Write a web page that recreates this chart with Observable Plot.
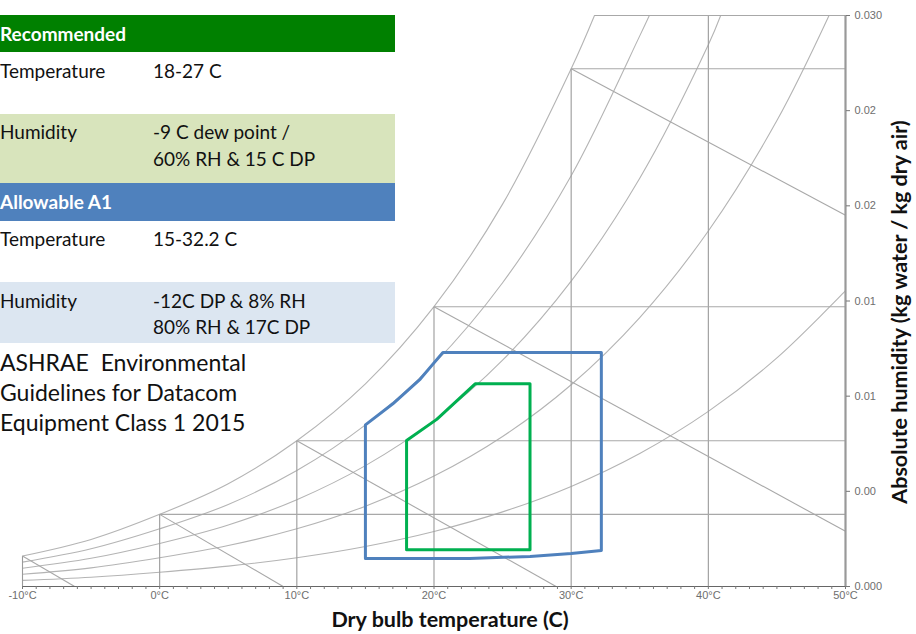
<!DOCTYPE html>
<html>
<head>
<meta charset="utf-8">
<script src="https://cdn.jsdelivr.net/npm/d3@7"></script>
<script src="https://cdn.jsdelivr.net/npm/@observablehq/plot@0.6"></script>
<style>
  body { margin: 0; background: #fff; }
  #wrap { position: relative; width: 916px; height: 634px; overflow: hidden; background: #fff; }
  #chart { position: absolute; left: 0; top: 0; }
  #table { position: absolute; left: 0; top: 15px; width: 395px; font-family: Lato, "Open Sans", sans-serif; font-size: 19px; color: #111; }
  #table .head { color: #fff; font-weight: bold; text-indent: 0px; }
  #table .row { position: relative; }
  #table .lab { position: absolute; left: 0px; }
  #table .val { position: absolute; left: 153px; }
  #note { position: absolute; left: 0px; top: 347px; font-family: Lato, "Open Sans", sans-serif; font-size: 23px; line-height: 30px; color: #111; }
</style>
</head>
<body>
<div id="wrap">
  <div id="chart"></div>
  <div id="table"></div>
  <div id="note"></div>
</div>
<script>
// ---------- data ----------
// dry-bulb temperature (°C) and absolute humidity (kg/kg) of the relative-humidity curves
const satT  = [-10, -5, 0, 5, 10, 15, 20, 25, 30, 31.7];
const satW  = [0.0016, 0.00247, 0.00379, 0.0054, 0.00766, 0.01065, 0.0147, 0.02009, 0.0272, 0.030];
const rh80T = [-10, -5, 0, 5, 10, 15, 20, 25, 30, 35, 35.7];
const rh80W = [0.00128, 0.00198, 0.00303, 0.00431, 0.00609, 0.00849, 0.0117, 0.01596, 0.02158, 0.02893, 0.030];
const rh60T = [-10, -5, 0, 5, 10, 15, 20, 25, 30, 35, 40, 40.9];
const rh60W = [0.00096, 0.00148, 0.00226, 0.00323, 0.00456, 0.00635, 0.00873, 0.01189, 0.01604, 0.02145, 0.02846, 0.030];
const rh40T = [-10, -5, 0, 5, 10, 15, 20, 25, 30, 35, 40, 45, 48.8];
const rh40W = [0.00064, 0.00098, 0.00151, 0.00215, 0.00303, 0.00422, 0.0058, 0.00788, 0.0106, 0.01413, 0.01868, 0.02448, 0.030];
const rh20T = [-10, -5, 0, 5, 10, 15, 20, 25, 30, 35, 40, 45, 50];
const rh20W = [0.00032, 0.00049, 0.00075, 0.00107, 0.00151, 0.0021, 0.00289, 0.00392, 0.00526, 0.00699, 0.0092, 0.01201, 0.01554];

// grid: saturation points at each 10 °C
const gridT    = [-10, 0, 10, 20, 30];
const gridSatW = [0.0016, 0.00379, 0.00766, 0.0147, 0.0272];
// diagonal (enthalpy) lines: end points
const enthEndT = [-6.2, 9.0, 28.9, 50, 50];
const enthEndW = [0, 0, 0, 0.0029, 0.0195];
// horizontal lines from saturation to 50 °C
const hLineT = [0, 10, 20, 30, 31.7];
const hLineW = [0.00379, 0.00766, 0.0147, 0.0272, 0.030];
// full-height vertical
const fullVertT = [40];

// envelopes
const allowT = [15, 15, 17, 19, 20.65, 32.2, 32.2, 30, 27, 22.6, 15];
const allowW = [0.00147, 0.00849, 0.0096, 0.0109, 0.0123, 0.0123, 0.00189, 0.00173, 0.00158, 0.00147, 0.00147];
const recT = [18, 18, 20.2, 23, 27, 27, 18];
const recW = [0.00193, 0.00767, 0.00878, 0.01065, 0.01065, 0.00193, 0.00193];

// axes
const xTicks = [-10, 0, 10, 20, 30, 40, 50];
const xTickLabels = ["-10°C", "0°C", "10°C", "20°C", "30°C", "40°C", "50°C"];
const yTicks = [0, 0.005, 0.010, 0.015, 0.020, 0.025, 0.030];
const yTickLabels = ["0.000", "0.00", "0.01", "0.01", "0.02", "0.02", "0.030"];
const xTitle = "Dry bulb temperature (C)";
const yTitle = "Absolute humidity (kg water / kg dry air)";

// table
const sectionNames = ["Recommended", "Allowable A1"];
const rowLabels = ["Temperature", "Humidity"];
const recommendedValues = [["18-27 C"], ["-9 C dew point /", "60% RH & 15 C DP"]];
const allowableValues = [["15-32.2 C"], ["-12C DP & 8% RH", "80% RH & 17C DP"]];
const noteLines = ["ASHRAE\u00a0 Environmental", "Guidelines for Datacom", "Equipment Class 1 2015"];

// ---------- build ----------
const curveSets = [[satT, satW], [rh80T, rh80W], [rh60T, rh60W], [rh40T, rh40W], [rh20T, rh20W]];
const curveData = curveSets.flatMap(([ts, ws], k) => ts.map((t, i) => ({t, w: ws[i], k})));
const verts = gridT.map((t, i) => ({x1: t, y1: 0, x2: t, y2: gridSatW[i]}))
  .concat(fullVertT.map(t => ({x1: t, y1: 0, x2: t, y2: 0.030})));
const horiz = hLineT.map((t, i) => ({x1: t, y1: hLineW[i], x2: 50, y2: hLineW[i]}));
const diags = gridT.map((t, i) => ({x1: t, y1: gridSatW[i], x2: enthEndT[i], y2: enthEndW[i]}));
const allowData = allowT.map((t, i) => ({t, w: allowW[i]}));
const recData = recT.map((t, i) => ({t, w: recW[i]}));
const minorTicks = d3.range(-10, 51, 1);

const chart = Plot.plot({
  width: 916, height: 634,
  marginLeft: 22, marginRight: 71, marginTop: 15, marginBottom: 48,
  x: {domain: [-10, 50]},
  y: {domain: [0, 0.030]},
  style: {background: "transparent", fontFamily: "'Liberation Sans', sans-serif"},
  marks: [
    Plot.line(curveData, {x: "t", y: "w", z: "k", curve: "catmull-rom", stroke: "#b4b4b4", strokeWidth: 1.1}),
    Plot.link(verts, {x1: "x1", y1: "y1", x2: "x2", y2: "y2", stroke: "#9a9a9a", strokeWidth: 1.1}),
    Plot.link(horiz, {x1: "x1", y1: "y1", x2: "x2", y2: "y2", stroke: "#a8a8a8", strokeWidth: 1.1}),
    Plot.link(diags, {x1: "x1", y1: "y1", x2: "x2", y2: "y2", stroke: "#a8a8a8", strokeWidth: 1.1}),
    Plot.ruleY([0], {stroke: "#666", strokeWidth: 1.2}),
    Plot.ruleX([50], {stroke: "#999", strokeWidth: 2.2}),
    Plot.axisX({ticks: minorTicks, tickFormat: () => "", tickSize: 3, stroke: "#777"}),
    Plot.axisX({ticks: xTicks, tickFormat: (d, i) => xTickLabels[i], tickSize: 0, tickPadding: 5, fontSize: 11, fill: "#6e6e6e", label: null}),
    Plot.axisY({anchor: "right", ticks: yTicks, tickFormat: (d, i) => yTickLabels[i], tickSize: 4, tickPadding: 5, fontSize: 11, fill: "#6e6e6e", stroke: "#777", label: null}),
    Plot.line(allowData, {x: "t", y: "w", stroke: "#4f81bd", strokeWidth: 3, strokeLinejoin: "round"}),
    Plot.line(recData, {x: "t", y: "w", stroke: "#00b050", strokeWidth: 3, strokeLinejoin: "round"}),
    Plot.text([xTitle], {frameAnchor: "bottom", lineAnchor: "middle", textAnchor: "middle", dx: 16, dy: 34, fontSize: 21.5, fontWeight: "bold", fill: "#111", fontFamily: "Lato, 'Open Sans', sans-serif"}),
    Plot.text([yTitle], {frameAnchor: "right", lineAnchor: "middle", textAnchor: "middle", rotate: -90, dx: 55, dy: 11, fontSize: 21.5, fontWeight: "bold", fill: "#111", fontFamily: "Lato, 'Open Sans', sans-serif"})
  ]
});
document.getElementById("chart").appendChild(chart);

// table
const table = document.getElementById("table");
const headColors = ["#008000", "#4f81bd"];
const headH = [37, 38];
const rowBg = [["#ffffff", "#d8e4bc"], ["#ffffff", "#dce6f1"]];
const rowH = [[62, 69], [61, 61]];
const rowPad = [[6, 4], [5, 6]];
const lineH = [[26, 27], [26, 26]];
const vals = [recommendedValues, allowableValues];
sectionNames.forEach((name, s) => {
  const h = document.createElement("div");
  h.className = "head";
  h.style.background = headColors[s];
  h.style.height = headH[s] + "px";
  h.style.lineHeight = headH[s] + "px";
  h.textContent = name;
  table.appendChild(h);
  rowLabels.forEach((lab, r) => {
    const row = document.createElement("div");
    row.className = "row";
    row.style.height = rowH[s][r] + "px";
    row.style.background = rowBg[s][r];
    row.style.lineHeight = lineH[s][r] + "px";
    const l = document.createElement("div");
    l.className = "lab"; l.style.top = rowPad[s][r] + "px"; l.textContent = lab;
    const v = document.createElement("div");
    v.className = "val"; v.style.top = rowPad[s][r] + "px";
    vals[s][r].forEach(line => { const d = document.createElement("div"); d.textContent = line; v.appendChild(d); });
    row.appendChild(l); row.appendChild(v);
    table.appendChild(row);
  });
});
const note = document.getElementById("note");
noteLines.forEach(t => { const d = document.createElement("div"); d.textContent = t; note.appendChild(d); });
</script>
</body>
</html>
